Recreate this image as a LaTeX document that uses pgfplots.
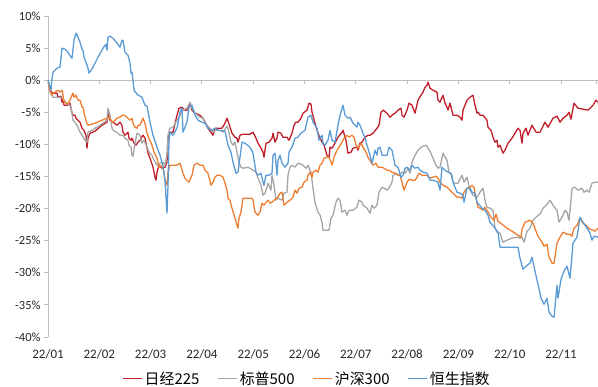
\documentclass[border=0pt]{standalone}
\usepackage{pgfplots}
\pgfplotsset{compat=1.18}
\usepackage{fontspec}
\setmainfont{Carlito}
\newfontfamily\cjk{Noto Sans CJK SC}

\definecolor{nkred}{RGB}{192,30,42}
\definecolor{spgray}{RGB}{165,165,165}
\definecolor{hsorange}{RGB}{237,125,49}
\definecolor{hkblue}{RGB}{91,155,213}
\definecolor{axgray}{RGB}{191,191,191}

\begin{document}
\begin{tikzpicture}
\begin{axis}[
    scale only axis,
    width=550bp, height=321bp,
    xmin=0, xmax=550,
    ymin=-40, ymax=10,
    axis y line*=left,
    x axis line style={draw=none},
    y axis line style={axgray, line width=0.9bp},
    tick align=outside,
    xtick={0,51.3,102.6,153.9,205.2,256.5,307.8,359.1,410.4,461.7,513},
    xticklabels={22/01,22/02,22/03,22/04,22/05,22/06,22/07,22/08,22/09,22/10,22/11},
    xtick style={draw=none},
    ytick={-40,-35,...,10},
    yticklabel={\pgfmathprintnumber{\tick}\%},
    ytick style={axgray, line width=0.9bp},
    major tick length=4bp,
    /pgf/number format/assume math mode=true,
    tick label style={font=\fontsize{12.5}{14}\selectfont, text=black!85},
    xticklabel style={yshift=-5bp, font=\fontsize{13}{15}\selectfont},
    extra y ticks={0},
    extra y tick labels={},
    extra y tick style={grid=major, major grid style={axgray, line width=0.9bp}, major tick length=0pt},
    legend style={at={(0.471,-0.13)}, anchor=center, draw=none, fill=none,
        legend columns=4, font=\cjk\fontsize{15}{17}\selectfont,
        /tikz/every even column/.append style={column sep=16bp}},
    legend image code/.code={\draw[#1] (0bp,0bp) -- (19bp,0bp);},
    every axis plot/.append style={line width=1.3bp, line join=round},
    unbounded coords=jump,
]

% small marks under the zero line
\addplot[axgray, line width=0.9bp, forget plot] coordinates {
(51.3,0)(51.3,-0.62)(51.3,nan)(102.6,0)(102.6,-0.62)(102.6,nan)(153.9,0)(153.9,-0.62)(153.9,nan)
(205.2,0)(205.2,-0.62)(205.2,nan)(256.5,0)(256.5,-0.62)(256.5,nan)(307.8,0)(307.8,-0.62)(307.8,nan)
(359.1,0)(359.1,-0.62)(359.1,nan)(410.4,0)(410.4,-0.62)(410.4,nan)(461.7,0)(461.7,-0.62)(461.7,nan)
(513,0)(513,-0.62)(513,nan)(548,0)(548,-0.62)
};

% Nikkei 225
\addplot[nkred] coordinates {
(0,0)(2,-1.56)(5,-2.02)(9,-2.02)(10,-2.65)(13,-2.49)(14,-3.43)(15,-3.12)(16,-3.89)(19,-3.89)
(21,-3.74)(22,-3.58)(24,-5.14)(25,-5.45)(27,-5.45)(28,-5.92)(30,-6.23)(32,-6.54)(33,-7.01)(34,-7.48)
(36,-7.79)(38,-8.57)(39,-10.59)(40,-9.03)(42,-8.26)(47,-7.94)(54,-7.01)(59,-6.54)(60,-5.14)(62,-6.23)
(65,-6.54)(69,-7.01)(72,-6.54)(74,-7.01)(75,-8.10)(77,-8.57)(80,-8.10)(81,-9.03)(83,-9.35)(84,-9.03)
(86,-9.81)(88,-10.12)(90,-9.66)(92,-9.35)(95,-8.57)(97,-9.03)(99,-10.59)(100,-11.37)(102,-12.15)(105,-13.55)
(107,-15.11)(108,-15.58)(109,-14.33)(111,-13.24)(114,-13.71)(117,-13.55)(119,-12.77)(120,-8.88)(122,-8.10)(125,-8.10)
(129,-5.45)(131,-4.36)(134,-4.21)(137,-4.67)(139,-4.67)(142,-3.58)(144,-4.67)(147,-5.14)(152,-5.45)(155,-5.92)
(157,-6.54)(160,-7.48)(163,-8.10)(165,-8.57)(167,-7.48)(170,-7.48)(174,-7.48)(177,-6.70)(179,-5.92)(182,-7.32)
(184,-8.26)(187,-8.88)(189,-9.03)(190,-9.66)(192,-8.57)(195,-8.41)(202,-8.41)(205,-8.10)(208,-9.03)(210,-9.81)
(213,-10.59)(215,-11.21)(216,-11.99)(218,-9.81)(221,-9.66)(224,-9.03)(225,-8.26)(227,-9.66)(229,-9.03)(230,-8.10)
(233,-8.26)(235,-8.88)(239,-8.88)(241,-9.35)(244,-8.26)(246,-7.01)(248,-6.54)(250,-6.54)(253,-5.92)(255,-5.14)
(259,-4.67)(261,-3.58)(263,-3.74)(264,-4.98)(267,-6.70)(270,-8.26)(274,-9.66)(276,-10.12)(279,-11.68)(281,-11.99)
(282,-10.44)(284,-10.59)(287,-9.81)(290,-8.88)(294,-8.10)(295,-7.79)(298,-9.35)(300,-11.37)(303,-11.21)(305,-10.59)
(309,-10.44)(310,-10.90)(312,-9.81)(314,-9.66)(317,-8.88)(320,-8.57)(322,-8.57)(325,-8.26)(329,-7.48)(331,-7.01)
(333,-4.98)(335,-4.67)(339,-5.14)(342,-5.76)(344,-5.45)(347,-5.14)(350,-4.67)(353,-4.36)(354,-5.45)(356,-5.76)
(359,-4.67)(361,-3.58)(364,-3.89)(367,-5.14)(370,-3.12)(373,-2.34)(375,-1.87)(377,-1.09)(379,-0.78)(380,-0.31)
(382,-1.25)(385,-1.56)(389,-1.87)(390,-3.12)(392,-3.43)(394,-2.65)(395,-2.34)(397,-3.58)(399,-4.21)(400,-4.67)
(402,-3.58)(405,-5.45)(409,-5.45)(412,-5.76)(414,-6.23)(415,-4.67)(419,-3.12)(422,-2.65)(425,-2.34)(427,-3.89)
(429,-5.14)(430,-4.98)(432,-5.45)(435,-5.45)(439,-6.23)(440,-7.32)(443,-7.79)(445,-8.88)(447,-9.66)(449,-9.35)
(450,-10.44)(452,-10.12)(455,-11.37)(457,-10.90)(460,-9.81)(464,-9.03)(467,-8.26)(470,-7.48)(472,-7.79)(474,-9.81)
(475,-8.26)(478,-7.48)(480,-8.57)(484,-7.01)(488,-8.10)(492,-8.10)(497,-6.54)(500,-7.32)(505,-5.92)(509,-5.61)
(512,-6.54)(515,-5.92)(519,-5.45)(521,-4.98)(523,-6.07)(526,-3.58)(530,-4.36)(535,-4.52)(540,-4.67)(545,-3.89)
(548,-3.12)(550,-3.43)
};
\addlegendentry{日经225}

% S&P 500
\addplot[spgray] coordinates {
(0,0)(2,-1.87)(5,-2.65)(10,-2.65)(13,-2.65)(15,-2.80)(18,-3.58)(20,-3.58)(23,-4.21)(25,-6.23)
(29,-7.01)(32,-8.10)(34,-8.57)(37,-9.35)(39,-9.66)(40,-8.10)(44,-7.79)(52,-7.01)(59,-6.23)(60,-4.36)
(62,-5.45)(64,-7.48)(66,-7.94)(69,-8.10)(72,-8.57)(75,-8.57)(77,-9.03)(80,-9.35)(81,-10.12)(83,-10.44)
(84,-11.68)(85,-11.84)(87,-9.81)(89,-8.26)(92,-8.57)(94,-9.81)(96,-9.35)(99,-10.44)(101,-11.21)(104,-11.68)
(106,-12.46)(109,-13.24)(112,-12.93)(115,-12.77)(117,-13.24)(119,-11.68)(120,-8.57)(122,-7.48)(125,-7.32)(129,-6.23)
(132,-5.45)(135,-4.67)(139,-4.36)(142,-3.43)(144,-4.36)(147,-5.14)(152,-5.76)(155,-5.92)(159,-7.01)(162,-7.48)
(165,-8.10)(168,-7.79)(172,-7.79)(175,-8.10)(179,-7.17)(180,-7.48)(183,-9.66)(185,-10.12)(187,-9.66)(189,-11.21)
(191,-12.77)(193,-13.55)(195,-13.71)(200,-13.55)(205,-14.02)(208,-14.33)(210,-15.26)(213,-16.36)(215,-17.91)(217,-17.60)
(219,-16.67)(220,-16.04)(223,-17.13)(224,-14.80)(226,-16.36)(228,-18.69)(230,-18.38)(234,-18.69)(236,-17.60)(239,-17.45)
(240,-14.80)(242,-13.55)(244,-13.24)(247,-13.55)(250,-12.93)(253,-13.08)(255,-13.24)(258,-13.71)(260,-13.24)(263,-14.33)
(265,-16.82)(267,-19.00)(270,-20.56)(272,-21.03)(274,-22.12)(275,-23.36)(279,-23.36)(281,-23.36)(283,-21.50)(285,-21.03)
(288,-19.00)(290,-18.38)(292,-18.69)(294,-20.56)(297,-20.25)(299,-21.03)(301,-20.25)(305,-20.25)(309,-19.78)(311,-18.69)
(314,-19.00)(315,-19.47)(319,-19.94)(322,-20.72)(324,-19.47)(326,-19.94)(329,-19.47)(331,-17.45)(334,-16.67)(336,-16.82)
(339,-17.13)(341,-16.82)(344,-15.89)(345,-14.80)(348,-14.49)(351,-14.80)(354,-14.33)(357,-14.49)(360,-13.71)(362,-14.49)
(364,-12.77)(367,-11.68)(370,-10.90)(372,-10.59)(375,-10.28)(378,-10.12)(380,-10.59)(383,-11.37)(385,-12.15)(388,-13.24)
(390,-13.71)(392,-13.55)(395,-11.37)(397,-11.99)(399,-12.46)(401,-14.33)(404,-14.80)(405,-15.89)(407,-16.04)(410,-16.04)
(414,-14.80)(416,-15.89)(419,-15.11)(422,-17.13)(425,-17.91)(429,-18.22)(432,-17.45)(435,-16.82)(437,-18.69)(439,-19.78)
(442,-19.94)(445,-20.25)(447,-23.05)(449,-23.68)(452,-23.83)(455,-25.23)(459,-24.92)(464,-24.61)(469,-24.45)(472,-24.61)
(474,-24.45)(476,-25.23)(479,-23.52)(482,-23.05)(485,-21.81)(489,-21.18)(492,-20.87)(495,-19.94)(499,-19.31)(502,-18.69)
(505,-19.47)(509,-20.25)(511,-22.12)(514,-21.34)(517,-20.25)(519,-20.56)(521,-21.81)(523,-18.69)(524,-16.82)(527,-16.67)
(530,-17.13)(534,-16.82)(536,-17.45)(539,-17.13)(541,-17.45)(544,-16.04)(547,-15.89)(550,-15.89)
};
\addlegendentry{标普500}

% CSI 300
\addplot[hsorange] coordinates {
(0,0)(2,-1.56)(4,-2.34)(5,-2.02)(7,-1.87)(10,-1.56)(12,-1.87)(14,-1.56)(15,-2.34)(16,-3.43)
(19,-3.58)(20,-3.58)(22,-3.12)(24,-2.34)(25,-2.02)(26,-2.65)(28,-2.34)(30,-3.12)(32,-3.12)(34,-4.21)
(35,-4.21)(37,-5.76)(39,-6.70)(40,-7.01)(47,-6.70)(54,-6.23)(59,-5.92)(61,-5.76)(63,-6.23)(65,-6.54)
(69,-5.92)(72,-5.76)(74,-5.45)(76,-5.45)(79,-5.76)(82,-6.23)(84,-5.92)(85,-6.70)(87,-7.32)(89,-7.48)
(90,-7.01)(92,-7.01)(95,-5.92)(97,-6.70)(99,-8.26)(101,-9.03)(104,-10.12)(106,-11.21)(109,-12.15)(111,-13.55)
(114,-13.24)(116,-14.33)(117,-15.58)(119,-16.36)(120,-14.33)(122,-13.24)(125,-13.24)(129,-13.24)(132,-12.93)(135,-14.49)
(137,-15.26)(139,-15.58)(141,-15.89)(144,-14.80)(146,-13.24)(149,-12.93)(152,-13.24)(155,-13.24)(157,-14.02)(160,-14.49)
(163,-16.36)(165,-15.89)(167,-15.11)(169,-14.80)(172,-14.80)(175,-15.11)(177,-16.04)(179,-17.13)(180,-18.38)(182,-18.69)
(184,-19.94)(187,-21.50)(190,-23.05)(191,-21.50)(193,-20.56)(195,-18.38)(199,-18.38)(204,-18.38)(205,-18.69)(207,-20.56)
(210,-21.03)(212,-20.56)(214,-19.16)(216,-19.47)(218,-19.00)(220,-18.69)(222,-19.16)(224,-19.00)(226,-18.69)(229,-18.38)
(232,-17.60)(234,-17.45)(236,-19.47)(239,-19.00)(242,-18.69)(245,-18.22)(247,-17.13)(249,-17.60)(251,-16.82)(254,-16.67)
(256,-15.89)(259,-15.58)(260,-14.80)(262,-14.33)(264,-15.11)(265,-14.33)(268,-14.02)(270,-14.33)(272,-13.24)(274,-12.93)
(276,-12.15)(279,-11.99)(281,-11.99)(283,-12.77)(284,-13.24)(286,-11.99)(289,-10.90)(291,-10.44)(294,-9.66)(296,-9.03)
(299,-8.57)(301,-8.88)(304,-8.57)(306,-8.88)(308,-10.12)(310,-10.59)(313,-9.81)(315,-10.44)(318,-11.21)(320,-11.99)
(323,-12.77)(325,-13.24)(328,-12.93)(330,-13.55)(334,-13.55)(336,-13.71)(339,-14.02)(341,-14.02)(344,-14.33)(347,-14.49)
(350,-14.80)(352,-14.80)(354,-15.89)(356,-17.13)(359,-15.89)(361,-15.42)(364,-15.58)(367,-15.58)(369,-15.11)(371,-14.49)
(374,-14.80)(379,-14.80)(381,-15.11)(382,-15.26)(385,-15.11)(388,-14.95)(390,-15.26)(392,-15.89)(395,-16.36)(399,-16.67)
(402,-17.13)(405,-17.60)(409,-18.22)(412,-18.22)(414,-18.38)(416,-17.45)(419,-16.82)(422,-16.67)(424,-16.36)(426,-16.67)
(428,-18.38)(430,-19.78)(432,-19.94)(435,-20.25)(437,-19.78)(440,-20.56)(443,-21.34)(446,-21.81)(448,-20.87)(450,-21.96)
(454,-22.43)(459,-23.05)(464,-23.52)(470,-24.14)(473,-24.45)(474,-23.21)(477,-22.12)(482,-21.81)(485,-22.27)(488,-23.52)
(490,-24.30)(494,-25.23)(496,-25.86)(499,-25.55)(501,-27.57)(504,-28.50)(506,-28.50)(509,-25.39)(512,-24.45)(515,-23.68)
(519,-23.99)(522,-23.99)(524,-24.30)(526,-23.05)(529,-22.59)(532,-21.50)(535,-22.27)(539,-22.74)(542,-23.21)(545,-23.36)
(547,-23.52)(550,-23.05)
};
\addlegendentry{沪深300}

% Hang Seng
\addplot[hkblue] coordinates {
(0,0)(3,-1.56)(4,0.31)(5,1.25)(9,1.87)(12,2.02)(13,3.43)(14,4.98)(17,4.83)(20,4.36)
(23,3.58)(24,3.43)(26,6.23)(28,7.32)(30,6.70)(32,5.92)(34,4.83)(35,4.67)(36,3.58)(38,2.80)
(40,1.87)(41,1.09)(45,2.02)(50,3.58)(55,4.98)(58,5.61)(59,4.67)(60,6.70)(62,6.85)(65,6.54)
(69,5.76)(72,5.14)(74,6.23)(75,6.23)(77,4.36)(80,3.89)(82,2.65)(83,1.09)(84,1.25)(85,0)
(86,-1.56)(89,-2.18)(92,-2.49)(94,-2.65)(95,-3.12)(97,-3.89)(99,-4.05)(102,-6.54)(105,-8.57)(109,-10.44)
(112,-11.68)(115,-13.40)(117,-15.58)(119,-20.72)(120,-16.36)(121,-9.66)(122,-8.10)(125,-8.57)(129,-7.48)(132,-4.98)
(134,-4.36)(135,-8.10)(139,-6.54)(141,-4.21)(144,-3.89)(147,-5.45)(150,-6.23)(154,-6.54)(157,-6.70)(160,-7.48)
(164,-7.79)(167,-7.48)(170,-7.79)(177,-7.94)(180,-10.12)(183,-11.21)(185,-12.77)(188,-14.49)(190,-14.33)(194,-9.66)
(197,-9.81)(202,-10.44)(205,-11.37)(208,-14.33)(210,-14.80)(213,-14.49)(215,-15.89)(216,-16.36)(218,-14.80)(221,-14.80)
(224,-14.49)(225,-11.68)(227,-11.37)(229,-14.80)(230,-12.46)(232,-11.68)(234,-12.93)(237,-13.55)(240,-12.93)(241,-11.21)
(244,-10.44)(247,-9.03)(250,-8.88)(253,-8.26)(257,-7.79)(260,-5.76)(263,-5.45)(265,-6.54)(269,-7.48)(271,-9.35)
(274,-8.57)(275,-9.81)(277,-10.12)(280,-9.35)(282,-7.79)(284,-9.35)(287,-9.66)(290,-7.01)(292,-5.45)(295,-3.89)
(297,-5.45)(300,-5.92)(302,-5.76)(305,-6.70)(309,-7.32)(310,-6.54)(312,-7.01)(315,-8.26)(317,-9.03)(319,-10.12)
(322,-11.68)(324,-12.93)(327,-10.90)(329,-11.68)(330,-10.59)(332,-10.44)(334,-11.68)(339,-11.68)(341,-10.44)(344,-10.90)
(347,-13.24)(350,-13.55)(353,-15.11)(355,-14.80)(357,-13.71)(359,-13.55)(362,-14.02)(364,-13.24)(367,-13.71)(370,-13.55)
(372,-14.02)(375,-14.33)(379,-14.49)(382,-15.58)(385,-15.58)(390,-15.89)(392,-17.13)(394,-13.55)(397,-14.02)(400,-14.33)
(403,-14.49)(405,-15.89)(409,-17.45)(412,-17.60)(415,-17.91)(416,-19.00)(419,-16.82)(422,-16.82)(424,-17.45)(427,-17.60)
(429,-19.00)(430,-19.16)(434,-19.94)(437,-20.25)(440,-21.03)(442,-22.12)(447,-23.05)(450,-23.68)(452,-26.01)(470,-26.01)
(472,-27.73)(475,-29.44)(478,-28.97)(482,-28.50)(484,-27.57)(487,-29.75)(490,-31.78)(493,-33.96)(496,-34.89)(499,-33.96)
(501,-36.14)(504,-36.76)(506,-36.92)(509,-31.93)(510,-33.96)(513,-31.00)(516,-29.75)(519,-28.97)(522,-30.84)(524,-27.26)
(525,-25.39)(529,-24.45)(532,-21.34)(535,-22.12)(539,-23.05)(542,-23.83)(544,-24.92)(546,-24.30)(550,-24.45)
};
\addlegendentry{恒生指数}

\end{axis}
\path (current axis.south west) ++(-48bp,-50bp) coordinate (bbA);
\path (current axis.north east) ++(0bp,16bp) coordinate (bbB);
\pgfresetboundingbox
\path (bbA) rectangle (bbB);
\end{tikzpicture}
\end{document}
